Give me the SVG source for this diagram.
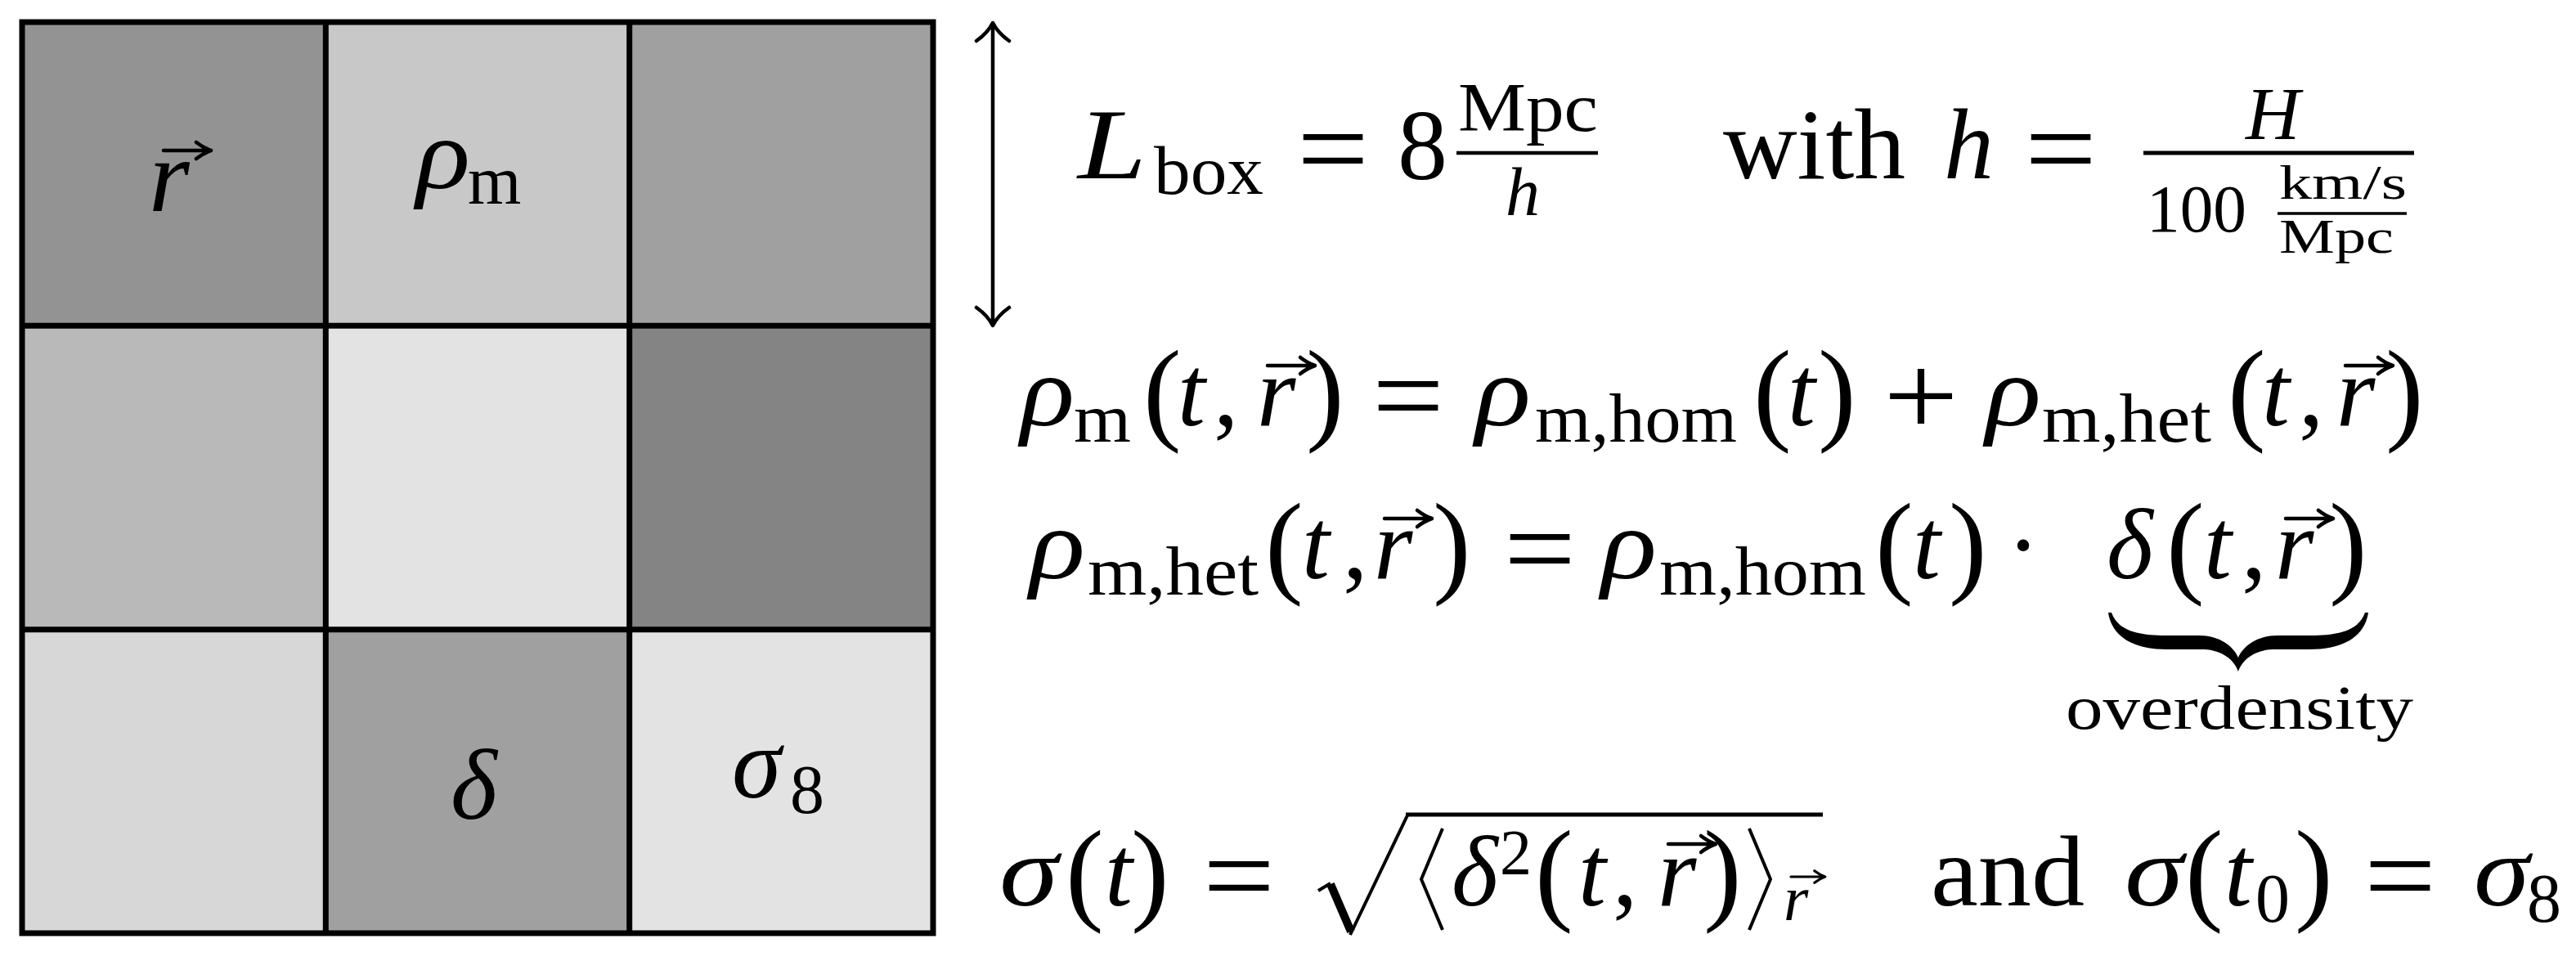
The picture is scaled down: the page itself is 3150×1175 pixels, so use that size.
<svg xmlns="http://www.w3.org/2000/svg" width="3150" height="1175" viewBox="0 0 3150 1175">
<defs>
<style>
text{font-family:"Liberation Serif","Times New Roman",serif;fill:#000}
.m{font-style:italic;font-size:122px}
.r{font-size:122px}
.s{font-size:84px}
.si{font-style:italic;font-size:84px}
.ss{font-size:60px}
.p{font-size:140px}
.eq{font-size:145px}
.ln{stroke:#000;fill:none}
.gl{stroke:#000;stroke-width:7;fill:none;stroke-linecap:square}
</style>
<g id="vec"><path d="M0,0 H55 M40,-10 Q49,-3 58,0 Q49,3 40,10" fill="none" stroke="#000" stroke-width="4.5" stroke-linecap="round" stroke-linejoin="round"/></g>
</defs>
<rect x="0" y="0" width="3150" height="1175" fill="#fff"/>

<g id="grid">
<g id="cell-r"><rect x="27" y="27" width="371.3" height="371.3" fill="#939393"/><text class="m" x="182" y="258" style="font-size:128px">r</text><use href="#vec" x="200" y="184"/></g>
<g id="cell-rho"><rect x="398.3" y="27" width="371.4" height="371.3" fill="#c8c8c8"/><text class="m" x="509" y="230" textLength="66" lengthAdjust="spacingAndGlyphs">ρ</text><text class="s" x="572" y="249">m</text></g>
<g id="cell-02"><rect x="769.7" y="27" width="371.3" height="371.3" fill="#a0a0a0"/></g>
<g id="cell-10"><rect x="27" y="398.3" width="371.3" height="371.4" fill="#b9b9b9"/></g>
<g id="cell-11"><rect x="398.3" y="398.3" width="371.4" height="371.4" fill="#e3e3e3"/></g>
<g id="cell-12"><rect x="769.7" y="398.3" width="371.3" height="371.4" fill="#848484"/></g>
<g id="cell-20"><rect x="27" y="769.7" width="371.3" height="371.3" fill="#d7d7d7"/></g>
<g id="cell-delta"><rect x="398.3" y="769.7" width="371.4" height="371.3" fill="#a0a0a0"/><text class="m" x="551" y="1001">δ</text></g>
<g id="cell-sigma8"><rect x="769.7" y="769.7" width="371.3" height="371.3" fill="#e3e3e3"/><text class="m" x="895" y="975">σ</text><text class="s" x="966" y="994">8</text></g>
<path class="gl" d="M27,27 H1141 V1141 H27 Z M27,398.3 H1141 M27,769.7 H1141 M398.3,27 V1141 M769.7,27 V1141"/>
</g>

<g id="connectors">
<path class="ln" stroke-width="4.5" d="M1214,30 V396"/>
<path class="ln" stroke-width="4.5" stroke-linecap="round" stroke-linejoin="round" d="M1194,50 Q1208,40 1214,28 Q1220,40 1234,50 M1194,376 Q1208,386 1214,398 Q1220,386 1234,376"/>
</g>

<g id="eq-lbox">
<text class="m" x="1318" y="218" textLength="84" lengthAdjust="spacingAndGlyphs">L</text>
<text class="s" x="1411" y="237" textLength="134" lengthAdjust="spacingAndGlyphs">box</text>
<text class="eq" x="1586" y="230" textLength="88" lengthAdjust="spacingAndGlyphs">=</text>
<text class="r" x="1709" y="219">8</text>
<path class="ln" stroke-width="4.5" d="M1781,187 H1954"/>
<text class="s" x="1783" y="160" textLength="171" lengthAdjust="spacingAndGlyphs">Mpc</text>
<text class="si" x="1841" y="263">h</text>
<text class="r" x="2107" y="218" textLength="223" lengthAdjust="spacingAndGlyphs">with</text>
<text class="m" x="2377" y="218">h</text>
<text class="eq" x="2476" y="230" textLength="88" lengthAdjust="spacingAndGlyphs">=</text>
<path class="ln" stroke-width="5" d="M2621,187 H2952"/>
<text class="si" x="2746" y="170" style="font-size:92px">H</text>
<text class="s" x="2625" y="283" style="font-size:82px" textLength="122" lengthAdjust="spacingAndGlyphs">100</text>
<text class="ss" x="2787" y="243" textLength="156" lengthAdjust="spacingAndGlyphs">km/s</text>
<path class="ln" stroke-width="3.5" d="M2785,261 H2943"/>
<text class="ss" x="2787" y="309" textLength="140" lengthAdjust="spacingAndGlyphs">Mpc</text>
</g>

<g id="eq-rho">
<text class="m" x="1248" y="520" textLength="66" lengthAdjust="spacingAndGlyphs">ρ</text>
<text class="s" x="1313" y="540" textLength="70" lengthAdjust="spacingAndGlyphs">m</text>
<text class="p" x="1398" y="525">(</text>
<text class="m" x="1440" y="520">t</text>
<text class="r" x="1484" y="520">,</text>
<text class="m" x="1537" y="520">r</text>
<use href="#vec" x="1550" y="447"/>
<text class="p" x="1597" y="525">)</text>
<text class="eq" x="1678" y="532" textLength="88" lengthAdjust="spacingAndGlyphs">=</text>
<text class="m" x="1804" y="520" textLength="68" lengthAdjust="spacingAndGlyphs">ρ</text>
<text class="s" x="1877" y="540" textLength="247" lengthAdjust="spacingAndGlyphs">m,hom</text>
<text class="p" x="2144" y="525">(</text>
<text class="m" x="2186" y="520">t</text>
<text class="p" x="2223" y="525">)</text>
<text class="eq" x="2303" y="532" textLength="92" lengthAdjust="spacingAndGlyphs">+</text>
<text class="m" x="2428" y="520" textLength="68" lengthAdjust="spacingAndGlyphs">ρ</text>
<text class="s" x="2497" y="540" textLength="207" lengthAdjust="spacingAndGlyphs">m,het</text>
<text class="p" x="2724" y="525">(</text>
<text class="m" x="2766" y="520">t</text>
<text class="r" x="2811" y="520">,</text>
<text class="m" x="2857" y="520">r</text>
<use href="#vec" x="2868" y="447"/>
<text class="p" x="2917" y="525">)</text>
</g>

<g id="eq-het">
<text class="m" x="1259" y="707" textLength="68" lengthAdjust="spacingAndGlyphs">ρ</text>
<text class="s" x="1330" y="727" textLength="209" lengthAdjust="spacingAndGlyphs">m,het</text>
<text class="p" x="1547" y="712">(</text>
<text class="m" x="1592" y="707">t</text>
<text class="r" x="1642" y="707">,</text>
<text class="m" x="1680" y="707">r</text>
<use href="#vec" x="1693" y="634"/>
<text class="p" x="1752" y="712">)</text>
<text class="eq" x="1839" y="719" textLength="88" lengthAdjust="spacingAndGlyphs">=</text>
<text class="m" x="1958" y="707" textLength="68" lengthAdjust="spacingAndGlyphs">ρ</text>
<text class="s" x="2029" y="727" textLength="253" lengthAdjust="spacingAndGlyphs">m,hom</text>
<text class="p" x="2293" y="712">(</text>
<text class="m" x="2339" y="707">t</text>
<text class="p" x="2383" y="712">)</text>
<text class="r" x="2474" y="707" text-anchor="middle">·</text>
</g>

<g id="overdensity">
<text class="m" x="2576" y="707">δ</text>
<text class="p" x="2649" y="712">(</text>
<text class="m" x="2695" y="707">t</text>
<text class="r" x="2741" y="707">,</text>
<text class="m" x="2782" y="707">r</text>
<use href="#vec" x="2795" y="634"/>
<text class="p" x="2848" y="712">)</text>
<path fill="#000" d="M2578,749 C2582,776 2605,794 2650,794 L2695,794 C2718,795 2732,807 2737,821 C2742,807 2756,795 2779,794 L2824,794 C2869,794 2892,776 2896,749 L2892,749 C2885,769 2864,777 2825,777 L2785,777 C2760,777 2743,790 2737,804 C2731,790 2714,777 2689,777 L2649,777 C2610,777 2589,769 2582,749 Z"/>
<text x="2526" y="891" style="font-size:76px" textLength="425" lengthAdjust="spacingAndGlyphs">overdensity</text>
</g>

<g id="eq-sigma">
<text class="m" x="1222" y="1107" textLength="72" lengthAdjust="spacingAndGlyphs">σ</text>
<text class="p" x="1303" y="1112">(</text>
<text class="m" x="1351" y="1107">t</text>
<text class="p" x="1383" y="1112">)</text>
<text class="eq" x="1471" y="1119" textLength="88" lengthAdjust="spacingAndGlyphs">=</text>
<path class="ln" stroke-width="4" stroke-linejoin="round" d="M1612,1089 L1627,1080"/>
<path class="ln" stroke-width="10" d="M1627,1081 L1652,1139"/>
<path class="ln" stroke-width="4" d="M1651,1143 L1721,997"/>
<path class="ln" stroke-width="5" d="M1719,996 H2229"/>
<path class="ln" stroke-width="4" stroke-linejoin="round" d="M1764,1013 L1738,1075 L1764,1137"/>
<text class="m" x="1775" y="1107">δ</text>
<text class="s" x="1834" y="1068" style="font-size:78px">2</text>
<text class="p" x="1877" y="1112">(</text>
<text class="m" x="1930" y="1107">t</text>
<text class="r" x="1972" y="1107">,</text>
<text class="m" x="2027" y="1107">r</text>
<use href="#vec" x="2040" y="1032"/>
<text class="p" x="2083" y="1112">)</text>
<path class="ln" stroke-width="4" stroke-linejoin="round" d="M2139,1013 L2165,1075 L2139,1137"/>
<text class="si" x="2181" y="1125" style="font-size:78px">r</text>
<use href="#vec" transform="translate(2190,1072) scale(0.72)"/>
<text class="r" x="2361" y="1107" textLength="188" lengthAdjust="spacingAndGlyphs">and</text>
<text class="m" x="2598" y="1107" textLength="72" lengthAdjust="spacingAndGlyphs">σ</text>
<text class="p" x="2672" y="1112">(</text>
<text class="m" x="2720" y="1107">t</text>
<text class="s" x="2758" y="1127">0</text>
<text class="p" x="2806" y="1112">)</text>
<text class="eq" x="2891" y="1119" textLength="88" lengthAdjust="spacingAndGlyphs">=</text>
<text class="m" x="3025" y="1107" textLength="68" lengthAdjust="spacingAndGlyphs">σ</text>
<text class="s" x="3090" y="1127">8</text>
</g>
</svg>
